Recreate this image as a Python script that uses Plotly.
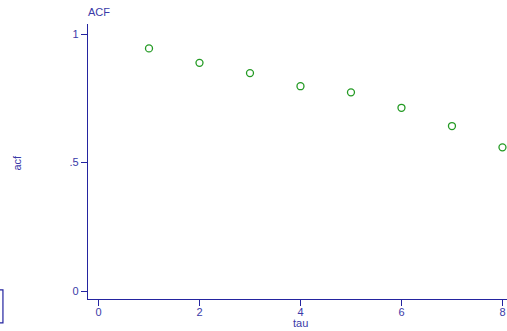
import plotly.graph_objects as go

tau = [1, 2, 3, 4, 5, 6, 7, 8]
acf = [0.944, 0.888, 0.848, 0.797, 0.773, 0.713, 0.642, 0.559]
x_ticks = [0, 2, 4, 6, 8]
y_ticks = [0, 0.5, 1]
y_tick_labels = ["0", ".5", "1"]

axis_col = "#2424a0"
text_col = "#3a3aa8"
pt_col = "#239a23"
font = "Liberation Sans, Arial, sans-serif"

fig = go.Figure(go.Scatter(
    x=tau, y=acf, mode="markers", cliponaxis=False,
    marker=dict(symbol="circle-open", size=7, color=pt_col, line=dict(width=1.3, color=pt_col)),
    showlegend=False,
))

fig.update_layout(
    width=507, height=331,
    margin=dict(l=88, r=0, t=24, b=32, autoexpand=False),
    paper_bgcolor="white", plot_bgcolor="white",
    font=dict(family=font, size=11, color=text_col),
    xaxis=dict(range=[-0.208, 8.09], tickvals=x_ticks, showgrid=False, zeroline=False,
               automargin=False, ticklabelstandoff=-3,
               showline=True, linecolor=axis_col, linewidth=1.3,
               ticks="outside", ticklen=6, tickcolor=axis_col, tickwidth=1.3),
    yaxis=dict(range=[-0.031, 1.039], tickvals=y_ticks, ticktext=y_tick_labels,
               showgrid=False, zeroline=False, automargin=False,
               showline=True, linecolor=axis_col, linewidth=1.3,
               ticks="outside", ticklen=6, tickcolor=axis_col, tickwidth=1.3),
    annotations=[
        dict(text="ACF", xref="paper", yref="paper", x=0, y=1, xanchor="left",
             yanchor="bottom", yshift=4, xshift=-2, showarrow=False,
             font=dict(size=11, color=text_col, family=font)),
        dict(text="tau", xref="x", yref="paper", x=4, y=0, xanchor="center",
             yanchor="top", yshift=-16, showarrow=False,
             font=dict(size=11, color=text_col, family=font)),
        dict(text="acf", xref="paper", yref="y", x=0, y=0.5, xanchor="center",
             yanchor="middle", xshift=-71, textangle=-90, showarrow=False,
             font=dict(size=11, color=text_col, family=font)),
    ],
    shapes=[dict(type="rect", xref="paper", yref="paper",
                 x0=-0.215, x1=-0.203, y0=-0.087, y1=0.033,
                 line=dict(color=axis_col, width=1.2))],
)

fig.write_html("out.html", config={"displayModeBar": False},
               post_script="document.body.style.margin='0';document.body.style.overflow='hidden';")
